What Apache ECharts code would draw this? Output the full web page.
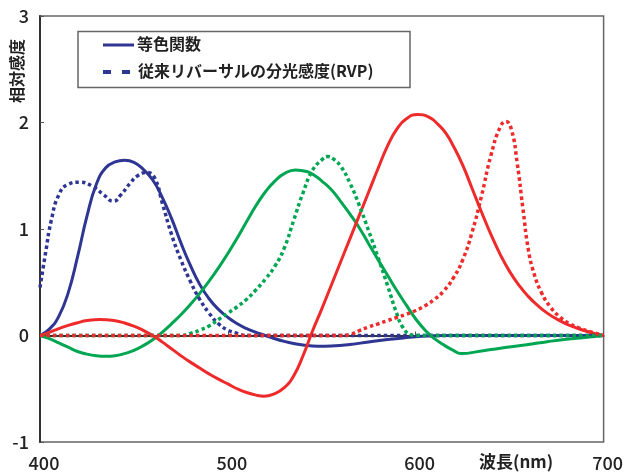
<!DOCTYPE html>
<html><head><meta charset="utf-8">
<script src="https://cdn.jsdelivr.net/npm/echarts@6/dist/echarts.min.js"></script>
<style>html,body{margin:0;padding:0;background:#fff}#c{width:626px;height:474px}</style>
</head><body><div id="c"></div>
<script>
// Colour-matching functions (solid)
var bSolid = [[400,0],[405,0.06],[410,0.18],[415,0.40],[420,0.74],[425,1.12],[430,1.42],[435,1.575],[440,1.63],[445,1.645],[450,1.625],[455,1.56],[460,1.46],[465,1.30],[470,1.10],[475,0.87],[480,0.66],[485,0.48],[490,0.345],[495,0.245],[500,0.17],[505,0.11],[510,0.065],[515,0.03],[520,0.0],[525,-0.03],[530,-0.055],[535,-0.075],[540,-0.09],[548,-0.10],[555,-0.098],[565,-0.085],[575,-0.06],[585,-0.038],[595,-0.02],[605,-0.005],[615,0],[700,0]];
var gSolid = [[400,0],[405,-0.03],[410,-0.07],[415,-0.11],[420,-0.15],[425,-0.175],[430,-0.19],[435,-0.195],[440,-0.19],[445,-0.17],[450,-0.14],[455,-0.095],[460,-0.04],[465,0.03],[470,0.11],[475,0.195],[480,0.29],[485,0.395],[490,0.51],[495,0.635],[500,0.77],[505,0.915],[510,1.07],[515,1.22],[520,1.35],[525,1.45],[530,1.52],[536,1.555],[542,1.54],[546,1.505],[550,1.45],[555,1.37],[560,1.26],[565,1.14],[570,1.01],[575,0.86],[580,0.71],[585,0.565],[590,0.42],[595,0.285],[600,0.155],[605,0.05],[610,-0.03],[615,-0.09],[620,-0.14],[624,-0.17],[635,-0.145],[645,-0.12],[660,-0.085],[670,-0.058],[680,-0.035],[690,-0.018],[700,0]];
var rSolid = [[400,0],[405,0.03],[410,0.065],[415,0.095],[420,0.12],[425,0.14],[432,0.15],[440,0.138],[445,0.118],[450,0.088],[455,0.048],[460,0.0],[465,-0.06],[470,-0.125],[475,-0.19],[480,-0.25],[485,-0.305],[490,-0.36],[495,-0.41],[500,-0.455],[505,-0.50],[510,-0.535],[515,-0.56],[519,-0.57],[525,-0.545],[530,-0.49],[535,-0.38],[540,-0.19],[545,0.04],[550,0.25],[555,0.47],[560,0.69],[565,0.91],[570,1.13],[575,1.35],[580,1.57],[585,1.78],[590,1.94],[595,2.035],[601,2.075],[607,2.05],[612,1.98],[616,1.90],[620,1.78],[625,1.60],[630,1.38],[635,1.16],[640,0.95],[645,0.76],[650,0.60],[655,0.47],[660,0.365],[665,0.28],[670,0.21],[675,0.155],[680,0.11],[685,0.075],[690,0.045],[695,0.02],[700,0]];
// Conventional reversal film spectral sensitivity (RVP) (dashed)
var bRVP = [[400,0.45],[403,0.78],[406,1.08],[410,1.32],[415,1.42],[421,1.44],[428,1.40],[434,1.32],[439,1.26],[443,1.32],[448,1.43],[452,1.50],[457,1.53],[461,1.48],[465,1.25],[470,0.95],[475,0.71],[480,0.51],[485,0.34],[490,0.21],[495,0.11],[500,0.05],[505,0.02],[510,0],[700,0]];
var gRVP = [[400,0],[475,0],[480,0.02],[485,0.05],[490,0.09],[495,0.15],[500,0.21],[505,0.27],[510,0.34],[515,0.43],[520,0.53],[525,0.65],[530,0.82],[535,1.08],[540,1.34],[545,1.55],[550,1.65],[553,1.68],[556,1.66],[560,1.59],[565,1.43],[570,1.22],[575,0.98],[580,0.73],[585,0.47],[590,0.20],[593,0.08],[597,0.01],[600,0],[700,0]];
var rRVP = [[400,0],[560,0],[565,0.01],[570,0.045],[575,0.08],[580,0.11],[585,0.14],[590,0.17],[595,0.20],[600,0.235],[605,0.28],[610,0.34],[615,0.42],[620,0.54],[625,0.71],[630,0.97],[635,1.31],[640,1.69],[645,1.96],[648,2.01],[651,1.93],[654,1.62],[657,1.20],[660,0.80],[663,0.58],[667,0.40],[672,0.26],[677,0.17],[682,0.11],[687,0.07],[692,0.04],[700,0]];

var xTicks = [400,500,600,700];
var yTicks = [-1,0,1,2,3];
var legendNames = ['等色関数','従来リバーサルの分光感度(RVP)'];
var xName = '波長(nm)';
var yName = '相対感度';

var BLUE='#2e3592', GREEN='#00a651', RED='#ee2a2a';
var FONT='"Noto Sans CJK JP", "Noto Sans", sans-serif';

function solid(data,color){return {type:'line',data:data,smooth:0.5,showSymbol:false,symbol:'none',lineStyle:{color:color,width:3,type:'solid'},itemStyle:{color:color},z:3};}
function dashed(data,color){return {type:'line',data:data,smooth:0.5,showSymbol:false,symbol:'none',lineStyle:{color:color,width:3.5,type:[3.5,3]},itemStyle:{color:color},z:4};}

var chart = echarts.init(document.getElementById('c'),null,{renderer:'canvas'});
chart.setOption({
  animation:false,
  backgroundColor:'#fff',
  grid:{left:40,right:22,top:16,bottom:32,show:true,borderColor:'#666',borderWidth:1.5,backgroundColor:'transparent'},
  xAxis:{type:'value',min:xTicks[0],max:xTicks[xTicks.length-1],interval:100,
    axisLine:{show:true,lineStyle:{color:'#333',width:2}},
    axisTick:{show:true,inside:true,length:4,lineStyle:{color:'#555',width:1}},
    axisLabel:{fontSize:18,color:'#222',fontFamily:FONT,fontWeight:500,margin:12,padding:[0,0,0,8]},
    splitLine:{show:false}},
  yAxis:{type:'value',min:yTicks[0],max:yTicks[yTicks.length-1],interval:1,
    axisLine:{show:true,lineStyle:{color:'#333',width:2}},
    axisTick:{show:true,inside:true,length:4,lineStyle:{color:'#555',width:1}},
    axisLabel:{fontSize:18,color:'#222',fontFamily:FONT,fontWeight:500,margin:11},
    splitLine:{show:true,lineStyle:{color:['rgba(0,0,0,0)','#000','rgba(0,0,0,0)','rgba(0,0,0,0)','rgba(0,0,0,0)'],width:1.5}}},
  series:[
    solid(bSolid,BLUE), solid(gSolid,GREEN), solid(rSolid,RED),
    dashed(bRVP,BLUE), dashed(gRVP,GREEN), dashed(rRVP,RED)
  ],
  graphic:[
    {type:'text',x:9,y:103,rotation:Math.PI/2,style:{text:yName,font:'bold 16px '+FONT,fill:'#222'},z:10},
    {type:'text',x:479,y:453,style:{text:xName,font:'bold 17px '+FONT,fill:'#222'},z:10},
    {type:'rect',shape:{x:78,y:31.5,width:332,height:56},style:{fill:'#fff',stroke:'#666',lineWidth:1.5},z:10},
    {type:'line',shape:{x1:103,y1:45,x2:134,y2:45},style:{stroke:BLUE,lineWidth:3},z:11},
    {type:'text',x:137,y:36,style:{text:legendNames[0],font:'bold 16px '+FONT,fill:'#222'},z:11},
    {type:'line',shape:{x1:103,y1:72,x2:134,y2:72},style:{stroke:BLUE,lineWidth:4,lineDash:[8,11]},z:11},
    {type:'text',x:138,y:63,style:{text:legendNames[1],font:'bold 16px '+FONT,fill:'#222'},z:11}
  ]
});
</script></body></html>
